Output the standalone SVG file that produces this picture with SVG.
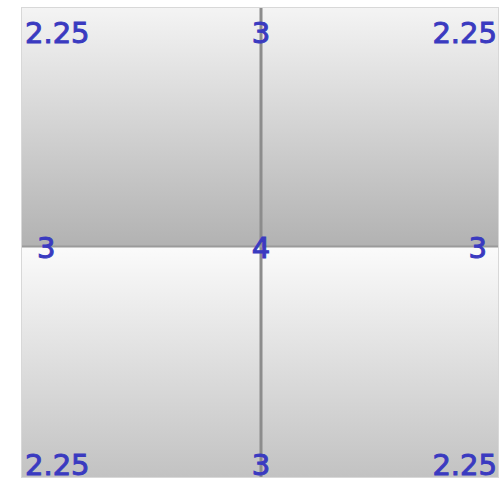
<svg xmlns="http://www.w3.org/2000/svg" width="501" height="485" viewBox="0 0 501 485">
<defs>
<linearGradient id="gTop" x1="0" y1="0" x2="0" y2="1">
<stop offset="0" stop-color="#f4f4f4"/>
<stop offset="1" stop-color="#b2b2b2"/>
</linearGradient>
<linearGradient id="gBot" x1="0" y1="0" x2="0" y2="1">
<stop offset="0" stop-color="#fbfbfb"/>
<stop offset="1" stop-color="#c2c2c2"/>
</linearGradient>
<style>
.lbl{font-family:"DejaVu Sans",sans-serif;font-size:29px;fill:#3a3ac0;stroke:#3a3ac0;stroke-width:1px}
.mid{text-anchor:middle}
.end{text-anchor:end}
</style>
</defs>
<rect x="0" y="0" width="501" height="485" fill="#ffffff"/>
<g id="quad-tl"><rect x="21" y="7" width="240" height="239" fill="url(#gTop)"/></g>
<g id="quad-tr"><rect x="261" y="7" width="238" height="239" fill="url(#gTop)"/></g>
<g id="quad-bl"><rect x="21" y="246" width="240" height="232" fill="url(#gBot)"/></g>
<g id="quad-br"><rect x="261" y="246" width="238" height="232" fill="url(#gBot)"/></g>
<g id="connectors">
<line x1="261" y1="7" x2="261" y2="478" stroke="#8c8c8c" stroke-width="3"/>
<line x1="21" y1="246.5" x2="499" y2="246.5" stroke="#9a9a9a" stroke-width="2"/>
<rect x="21.5" y="7.5" width="477" height="470" fill="none" stroke="#d8d8d8" stroke-width="1"/>
</g>
<g id="labels">
<text class="lbl" x="25" y="43">2.25</text>
<text class="lbl mid" x="261" y="43">3</text>
<text class="lbl end" x="497" y="43">2.25</text>
<text class="lbl" x="37" y="258">3</text>
<text class="lbl mid" x="261" y="258">4</text>
<text class="lbl end" x="487" y="258">3</text>
<text class="lbl" x="25" y="475">2.25</text>
<text class="lbl mid" x="261" y="475">3</text>
<text class="lbl end" x="497" y="475">2.25</text>
</g>
</svg>
